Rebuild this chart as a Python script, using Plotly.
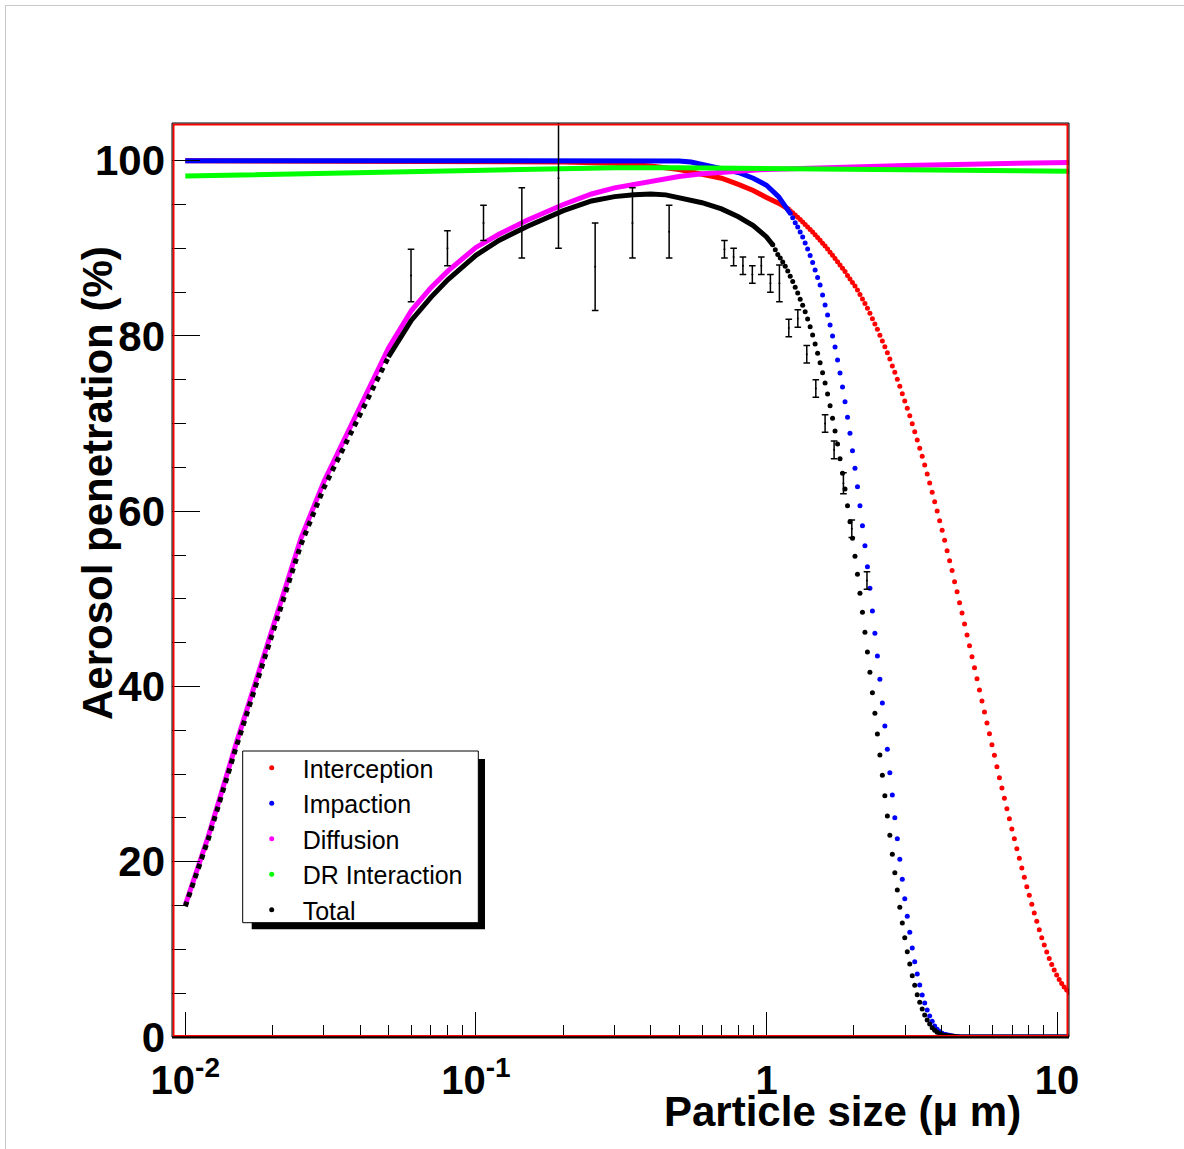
import plotly.graph_objects as go

# ---------------- data ----------------
# model grid used where the curves show separate dots (particle size, um)
x_grid = [1.0509, 1.0719, 1.0932, 1.1150, 1.1372, 1.1599, 1.1830, 1.2066, 1.2307, 1.2552,
          1.2802, 1.3057, 1.3317, 1.3582, 1.3853, 1.4129, 1.4411, 1.4698, 1.4991, 1.5290,
          1.5595, 1.5906, 1.6223, 1.6546, 1.6876, 1.7212, 1.7555, 1.7905, 1.8262, 1.8626,
          1.8997, 1.9376, 1.9762, 2.0156, 2.0558, 2.0968, 2.1386, 2.1812, 2.2247, 2.2690,
          2.3142, 2.3603, 2.4073, 2.4553, 2.5042, 2.5541, 2.6050, 2.6569, 2.7099, 2.7639,
          2.8190, 2.8752, 2.9325, 2.9909, 3.0505, 3.1113, 3.1733, 3.2365, 3.3010, 3.3668,
          3.4339, 3.5023, 3.5721, 3.6433, 3.7159, 3.7900, 3.8655, 3.9425, 4.0211, 4.1012,
          4.1829, 4.2663, 4.3513, 4.4380, 4.5265, 4.6167, 4.7087, 4.8025, 4.8982, 4.9958,
          5.0954, 5.1970, 5.3006, 5.4062, 5.5139, 5.6238, 5.7359, 5.8502, 5.9668, 6.0857,
          6.2070, 6.3307, 6.4569, 6.5856, 6.7168, 6.8507, 6.9872, 7.1265, 7.2685, 7.4134,
          7.5611, 7.7118, 7.8655, 8.0223, 8.1822, 8.3452, 8.5115, 8.6811, 8.8542, 9.0306,
          9.2106, 9.3942, 9.5814, 9.7723, 9.9671, 10.166, 10.368, 10.575, 10.786, 11.001]

# Interception
int_line_x = [0.01, 0.1, 0.2, 0.3, 0.4, 0.5, 0.6, 0.7, 0.8, 0.9, 1.0, 1.1, 1.2]
int_line_y = [100, 99.95, 99.85, 99.7, 99.4, 99.0, 98.5, 98.0, 97.3, 96.6, 95.8, 95.15, 94.4]
int_dot_first = 8   # first grid point (k) of the dotted part
int_dot_y = [94.30, 94.06, 93.81, 93.55, 93.28, 93.01, 92.73, 92.44, 92.15, 91.85,
             91.54, 91.23, 90.91, 90.58, 90.25, 89.91, 89.56, 89.21, 88.85, 88.48,
             88.11, 87.73, 87.34, 86.90, 86.50, 86.10, 85.70, 85.25, 84.73, 84.22,
             83.71, 83.16, 82.59, 81.97, 81.37, 80.76, 80.08, 79.43, 78.78, 78.09,
             77.37, 76.57, 75.86, 75.06, 74.26, 73.41, 72.58, 71.75, 70.90, 69.99,
             69.08, 68.13, 67.18, 66.27, 65.28, 64.25, 63.22, 62.16, 61.09, 60.03,
             58.92, 57.82, 56.68, 55.50, 54.36, 53.24, 51.96, 50.82, 49.56, 48.39,
             47.13, 45.88, 44.66, 43.40, 42.14, 40.89, 39.60, 38.34, 37.09, 35.83,
             34.61, 33.36, 32.15, 30.85, 29.59, 28.42, 27.24, 26.05, 24.91, 23.74,
             22.63, 21.49, 20.39, 19.29, 18.22, 17.15, 16.17, 15.14, 14.15, 13.20,
             12.24, 11.33, 10.50, 9.70, 8.96, 8.27, 7.65, 7.08, 6.56, 6.11,
             5.71, 5.36, 5.08]

# Impaction
imp_line_x = [0.01, 0.1, 0.3, 0.5, 0.55, 0.6, 0.7, 0.8, 0.9, 1.0, 1.1, 1.2]
imp_line_y = [100, 100, 100, 99.97, 99.85, 99.6, 99.1, 98.65, 98.0, 97.2, 95.9, 94.1]
imp_dot_first = 8
imp_dot_y = [94.0, 93.5, 92.93, 92.44, 91.87, 91.30, 90.61, 89.93, 89.19, 88.39,
             87.53, 86.67, 85.82, 84.68, 83.54, 82.39, 81.25, 80.00, 78.74, 77.26,
             75.78, 74.18, 72.50, 70.72, 68.89, 66.91, 64.90, 62.80, 60.63, 58.35,
             56.07, 53.67, 51.21, 48.62, 46.07, 43.48, 40.82, 38.12, 35.49, 32.83,
             30.16, 27.62, 25.03, 22.63, 20.28, 18.00, 15.78, 13.77, 11.95, 10.16,
             8.59, 7.19, 5.93, 4.79, 3.88, 3.08, 2.40, 1.79, 1.26, 0.88,
             0.63, 0.42, 0.29]
imp_tail_x = [4.1012, 4.2663, 4.4380, 4.6167, 5.0, 11.0]
imp_tail_y = [0.29, 0.12, 0.05, 0.02, 0.0, 0.0]

# Diffusion
dif_x = [0.01, 0.012, 0.015, 0.02, 0.025, 0.03, 0.04, 0.05, 0.06, 0.07, 0.08, 0.1,
         0.12, 0.15, 0.2, 0.25, 0.3, 0.4, 0.5, 0.6, 0.7, 0.8, 1.0, 1.5, 2, 3, 5, 7, 11]
dif_y = [15.06, 22.9, 33.6, 46.8, 56.9, 63.4, 71.9, 78.6, 82.9, 85.5, 87.4, 90.1,
         91.6, 93.2, 95.0, 96.2, 96.9, 97.7, 98.2, 98.5, 98.7, 98.8, 99.0, 99.2, 99.3,
         99.45, 99.6, 99.7, 99.8]

# DR interaction
dr_x = [0.01, 0.02, 0.03, 0.05, 0.1, 0.2, 0.3, 0.5, 0.8, 1.0, 2, 3, 5, 11]
dr_y = [98.25, 98.45, 98.6, 98.8, 99.0, 99.15, 99.2, 99.2, 99.15, 99.1, 99.0, 98.95, 98.9, 98.8]

# Total
tot_rise_x = [0.01, 0.012, 0.015, 0.02, 0.025, 0.03, 0.04, 0.05]
tot_rise_y = [14.9, 22.6, 33.2, 46.2, 56.2, 62.7, 71.0, 77.6]
tot_line_x = [0.05, 0.06, 0.07, 0.08, 0.1, 0.12, 0.15, 0.2, 0.25, 0.3, 0.35, 0.4, 0.45,
              0.5, 0.6, 0.7, 0.8, 0.9, 1.0, 1.05]
tot_line_y = [77.6, 81.8, 84.4, 86.4, 89.2, 90.9, 92.5, 94.3, 95.4, 95.9, 96.1, 96.2, 96.1,
              95.8, 95.2, 94.5, 93.6, 92.6, 91.3, 90.4]
tot_dot_first = 1
tot_dot_y = [90.4, 89.85, 89.30, 88.90, 88.45, 87.95, 87.40, 86.80, 86.20, 85.55,
             84.90, 84.20, 83.50, 82.75, 81.94, 81.06, 80.11, 79.08, 78.02, 76.95,
             75.81, 74.63, 73.38, 72.04, 70.60, 69.16, 67.67, 66.00, 64.33, 62.54,
             60.63, 58.81, 56.91, 54.86, 52.81, 50.63, 48.47, 46.18, 43.94, 41.62,
             39.29, 36.94, 34.58, 32.18, 29.87, 27.54, 25.22, 23.02, 20.85, 18.75,
             16.78, 14.80, 13.01, 11.33, 9.73, 8.33, 7.00, 5.90, 4.83, 3.96,
             3.20, 2.51, 1.94, 1.48, 1.06, 0.76, 0.54, 0.37, 0.25, 0.17]
tot_tail_x = [4.1012, 4.2663, 4.4380, 4.6167, 5.0, 11.0]
tot_tail_y = [0.17, 0.07, 0.02, 0.01, 0.0, 0.0]

# measured points with errors
meas_x = [0.0598, 0.0798, 0.1062, 0.1439, 0.1924, 0.2572, 0.3457, 0.4623,
          0.7165, 0.7705, 0.8295, 0.8937, 0.9596, 1.0314, 1.1076, 1.1931,
          1.2815, 1.3757, 1.4780, 1.5908, 1.7083, 1.8391, 1.9655, 2.2166]
meas_y = [86.9, 90.0, 92.9, 92.9, 98.0, 87.9, 92.9, 91.9,
          89.9, 89.0, 88.0, 87.0, 88.0, 86.0, 86.0, 80.9,
          82.0, 77.9, 74.0, 70.0, 67.0, 63.2, 58.0, 52.1]
meas_err = [3.0, 2.0, 2.0, 4.0, 8.0, 5.0, 4.0, 3.0,
            1.0, 1.0, 1.0, 1.0, 1.0, 1.0, 2.1, 1.0,
            1.0, 1.0, 1.0, 1.0, 1.0, 1.2, 1.0, 1.0]

x_ticks = [0.01, 0.1, 1, 10]
x_tick_text = ["10<sup>-2</sup>", "10<sup>-1</sup>", "1", "10"]
x_minor = [0.02, 0.03, 0.04, 0.05, 0.06, 0.07, 0.08, 0.09,
           0.2, 0.3, 0.4, 0.5, 0.6, 0.7, 0.8, 0.9,
           2, 3, 4, 5, 6, 7, 8, 9]

# ---------------- figure ----------------
RED, BLUE, MAG, GRN, BLK = "#ff0000", "#0000ff", "#ff00ff", "#00ff00", "#000000"
LW, MS = 5, 5

def grid_part(first, ys):
    return x_grid[first - 1:first - 1 + len(ys)]

fig = go.Figure()

# Interception
fig.add_trace(go.Scatter(x=int_line_x, y=int_line_y, mode="lines", line=dict(color=RED, width=LW),
                         legendgroup="int", showlegend=False, hoverinfo="skip"))
fig.add_trace(go.Scatter(x=grid_part(int_dot_first, int_dot_y), y=int_dot_y, mode="markers",
                         marker=dict(color=RED, size=MS), name="Interception", legendgroup="int",
                         legendrank=1))
# Impaction
fig.add_trace(go.Scatter(x=imp_line_x, y=imp_line_y, mode="lines", line=dict(color=BLUE, width=LW),
                         legendgroup="imp", showlegend=False, hoverinfo="skip"))
fig.add_trace(go.Scatter(x=imp_tail_x, y=imp_tail_y, mode="lines", line=dict(color=BLUE, width=LW),
                         legendgroup="imp", showlegend=False, hoverinfo="skip"))
fig.add_trace(go.Scatter(x=grid_part(imp_dot_first, imp_dot_y), y=imp_dot_y, mode="markers",
                         marker=dict(color=BLUE, size=MS), name="Impaction", legendgroup="imp",
                         legendrank=2))
# Diffusion
fig.add_trace(go.Scatter(x=dif_x, y=dif_y, mode="lines", line=dict(color=MAG, width=LW),
                         legendgroup="dif", showlegend=False, hoverinfo="skip"))
fig.add_trace(go.Scatter(x=[None], y=[None], mode="markers", marker=dict(color=MAG, size=MS),
                         name="Diffusion", legendgroup="dif", legendrank=3))
# DR Interaction
fig.add_trace(go.Scatter(x=dr_x, y=dr_y, mode="lines", line=dict(color=GRN, width=LW),
                         legendgroup="dr", showlegend=False, hoverinfo="skip"))
fig.add_trace(go.Scatter(x=[None], y=[None], mode="markers", marker=dict(color=GRN, size=MS),
                         name="DR Interaction", legendgroup="dr", legendrank=4))
# Total
fig.add_trace(go.Scatter(x=tot_rise_x, y=tot_rise_y, mode="lines",
                         line=dict(color=BLK, width=LW, dash="dot"),
                         legendgroup="tot", showlegend=False, hoverinfo="skip"))
fig.add_trace(go.Scatter(x=tot_line_x, y=tot_line_y, mode="lines", line=dict(color=BLK, width=LW),
                         legendgroup="tot", showlegend=False, hoverinfo="skip"))
fig.add_trace(go.Scatter(x=tot_tail_x, y=tot_tail_y, mode="lines", line=dict(color=BLK, width=LW),
                         legendgroup="tot", showlegend=False, hoverinfo="skip"))
fig.add_trace(go.Scatter(x=grid_part(tot_dot_first, tot_dot_y), y=tot_dot_y, mode="markers",
                         marker=dict(color=BLK, size=MS), name="Total", legendgroup="tot",
                         legendrank=5))
# measurements
fig.add_trace(go.Scatter(x=meas_x, y=meas_y, mode="markers", marker=dict(color=BLK, size=2),
                         error_y=dict(type="data", array=meas_err, color=BLK, thickness=1.5, width=3.3),
                         showlegend=False))

W, H = 1184, 1149
L, R, T, B = 172, 115, 123, 112
pw, ph = W - L - R, H - T - B

def px(xp):
    return (xp - L) / pw

def py(yp):
    return (H - B - yp) / ph

shapes = [
    # canvas border
    dict(type="line", xref="paper", yref="paper", x0=px(5), x1=px(1184), y0=py(5.5), y1=py(5.5),
         line=dict(color="#c8c8c8", width=1)),
    dict(type="line", xref="paper", yref="paper", x0=px(5.5), x1=px(5.5), y0=py(5), y1=py(1149),
         line=dict(color="#c8c8c8", width=1)),
    # frame
    dict(type="rect", xref="paper", yref="paper", x0=px(L + 1.5), x1=px(L + pw - 1.5),
         y0=py(H - B - 1), y1=py(T + 1.5), line=dict(color=RED, width=2)),
    dict(type="rect", xref="paper", yref="paper", x0=0, x1=1, y0=0, y1=1,
         line=dict(color=BLK, width=1)),
    dict(type="line", xref="paper", yref="paper", x0=0, x1=1, y0=py(H - B + 0.5), y1=py(H - B + 0.5),
         line=dict(color=BLK, width=2)),
    # legend box with shadow
    dict(type="rect", xref="paper", yref="paper", x0=px(251.7), x1=px(485), y0=py(929.3), y1=py(759),
         fillcolor=BLK, line=dict(color=BLK, width=0)),
    dict(type="rect", xref="paper", yref="paper", x0=px(242.7), x1=px(478.3), y0=py(922.7), y1=py(751),
         fillcolor="white", line=dict(color=BLK, width=1)),
]

annotations = [
    dict(text="<b>Particle size (\u03bc m)</b>", xref="paper", yref="paper", x=px(1023), y=py(1111),
         xanchor="right", yanchor="middle", showarrow=False,
         font=dict(family="Liberation Sans", size=42, color=BLK)),
    dict(text="<b>Aerosol penetration (%)</b>", xref="paper", yref="paper", x=px(97), y=py(483),
         xanchor="center", yanchor="middle", textangle=-90, showarrow=False,
         font=dict(family="Liberation Sans", size=42, color=BLK)),
]

fig.update_layout(
    width=W, height=H,
    margin=dict(l=L, r=R, t=T, b=B, pad=0),
    paper_bgcolor="white", plot_bgcolor="white",
    shapes=shapes, annotations=annotations,
    showlegend=True,
    legend=dict(x=px(240.7), y=py(745), xanchor="left", yanchor="top",
                bgcolor="rgba(0,0,0,0)", borderwidth=0, itemwidth=52,
                tracegroupgap=0, traceorder="normal",
                font=dict(family="Liberation Sans", size=25, color=BLK)),
    xaxis=dict(type="log", range=[-2.0458, 1.0409], showgrid=False, zeroline=False, showline=False,
               tickmode="array", tickvals=x_ticks, ticktext=x_tick_text,
               ticks="inside", ticklen=25, tickwidth=1, tickcolor=BLK, ticklabelstandoff=16,
               tickfont=dict(family="Liberation Sans", size=40, color=BLK, weight="bold"),
               minor=dict(tickmode="array", tickvals=x_minor, ticks="inside", ticklen=12,
                          tickwidth=1, tickcolor=BLK, showgrid=False)),
    yaxis=dict(range=[0, 104.3], showgrid=False, zeroline=False, showline=False,
               tickmode="array", tickvals=[0, 20, 40, 60, 80, 100],
               ticks="inside", ticklen=28, tickwidth=1, tickcolor=BLK, ticklabelstandoff=6,
               tickfont=dict(family="Liberation Sans", size=42, color=BLK, weight="bold"),
               minor=dict(dtick=5, ticks="inside", ticklen=14, tickwidth=1, tickcolor=BLK,
                          showgrid=False)),
)

fig.write_html("out.html", config={"displayModeBar": False},
               post_script="document.body.style.margin='0';")
